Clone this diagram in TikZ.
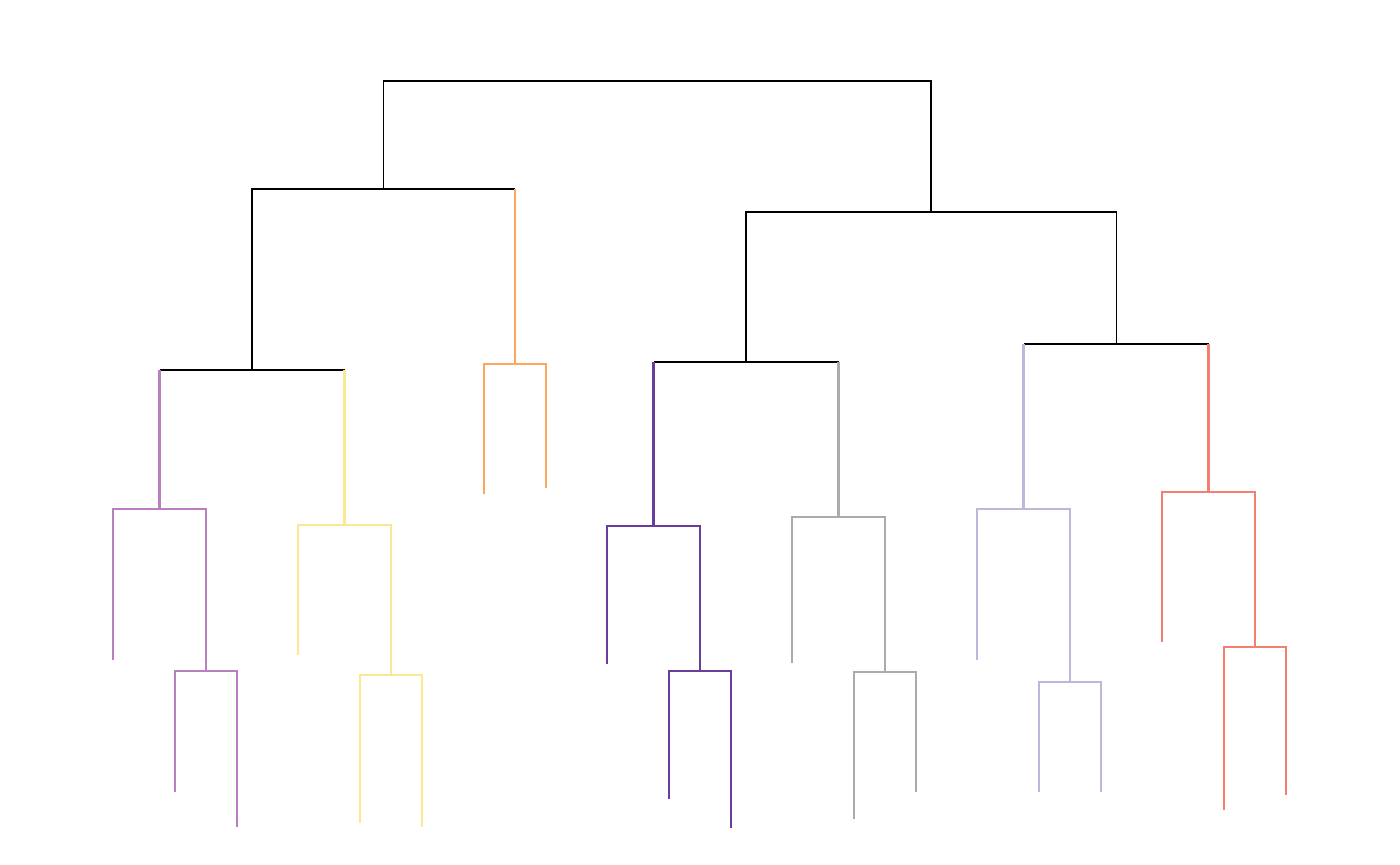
\documentclass[tikz,border=0pt]{standalone}
\usepackage{tikz}

\definecolor{orchidc}{HTML}{B97FC1}
\definecolor{yellowc}{HTML}{FDE892}
\definecolor{orangec}{HTML}{FCA75C}
\definecolor{purplec}{HTML}{6A3D9A}
\definecolor{grayc}{HTML}{ABABAB}
\definecolor{lavenderc}{HTML}{BDB8DA}
\definecolor{salmonc}{HTML}{F47F71}

\tikzset{
  link/.style={line width=0.5pt, black},
  branch/.style={line width=0.6pt, #1}
}

\begin{document}
\begin{tikzpicture}[x=0.01cm, y=-0.01cm]
  \useasboundingbox (0,0) rectangle (1400,865);

  % merge points (x = middle of the two children, y = merge height)
  \coordinate (root) at (657.5,81);
  \coordinate (A)  at (383.5,189);
  \coordinate (A1) at (252,370);
  \coordinate (P)  at (159.5,509);
  \coordinate (P2) at (206,671);
  \coordinate (Y)  at (344.5,525);
  \coordinate (Y2) at (391,675);
  \coordinate (O)  at (515,364);
  \coordinate (B)  at (931,212);
  \coordinate (B1) at (746,362);
  \coordinate (D)  at (653.5,526);
  \coordinate (D2) at (700,671);
  \coordinate (G)  at (838.5,517);
  \coordinate (G2) at (885,672);
  \coordinate (B2) at (1116.5,344);
  \coordinate (V)  at (1023.5,509);
  \coordinate (V2) at (1070,682);
  \coordinate (S)  at (1208.5,492);
  \coordinate (S2) at (1255,647);

  % leaves
  \coordinate (p1) at (113,660);
  \coordinate (p2) at (175,792);
  \coordinate (p3) at (237,827);
  \coordinate (y1) at (298,655);
  \coordinate (y2) at (360,823);
  \coordinate (y3) at (422,827);
  \coordinate (o1) at (484,494);
  \coordinate (o2) at (546,488);
  \coordinate (d1) at (607,664);
  \coordinate (d2) at (669,799);
  \coordinate (d3) at (731,828);
  \coordinate (g1) at (792,663);
  \coordinate (g2) at (854,819);
  \coordinate (g3) at (916,792);
  \coordinate (v1) at (977,660);
  \coordinate (v2) at (1039,792);
  \coordinate (v3) at (1101,792);
  \coordinate (s1) at (1162,642);
  \coordinate (s2) at (1224,810);
  \coordinate (s3) at (1286,795);

  % upper levels (black)
  \draw[link] (A) |- (root) -| (B);
  \draw[link] (A1) |- (A) -- (O |- A);
  \draw[link] (P |- A1) -- (Y |- A1);
  \draw[link] (B1) |- (B) -| (B2);
  \draw[link] (D |- B1) -- (G |- B1);
  \draw[link] (V |- B2) -- (S |- B2);

  % cluster stems
  \draw[branch=orangec] (O |- A) -- (O);
  \draw[branch=orchidc] (P |- A1) -- (P);
  \draw[branch=yellowc] (Y |- A1) -- (Y);
  \draw[branch=purplec] (D |- B1) -- (D);
  \draw[branch=grayc] (G |- B1) -- (G);
  \draw[branch=lavenderc] (V |- B2) -- (V);
  \draw[branch=salmonc] (S |- B2) -- (S);

  % orchid cluster
  \draw[branch=orchidc] (p1) |- (P) -| (P2);
  \draw[branch=orchidc] (p2) |- (P2) -| (p3);

  % yellow cluster
  \draw[branch=yellowc] (y1) |- (Y) -| (Y2);
  \draw[branch=yellowc] (y2) |- (Y2) -| (y3);

  % orange cluster
  \draw[branch=orangec] (o1) |- (O) -| (o2);

  % purple cluster
  \draw[branch=purplec] (d1) |- (D) -| (D2);
  \draw[branch=purplec] (d2) |- (D2) -| (d3);

  % gray cluster
  \draw[branch=grayc] (g1) |- (G) -| (G2);
  \draw[branch=grayc] (g2) |- (G2) -| (g3);

  % lavender cluster
  \draw[branch=lavenderc] (v1) |- (V) -| (V2);
  \draw[branch=lavenderc] (v2) |- (V2) -| (v3);

  % salmon cluster
  \draw[branch=salmonc] (s1) |- (S) -| (S2);
  \draw[branch=salmonc] (s2) |- (S2) -| (s3);
\end{tikzpicture}
\end{document}
